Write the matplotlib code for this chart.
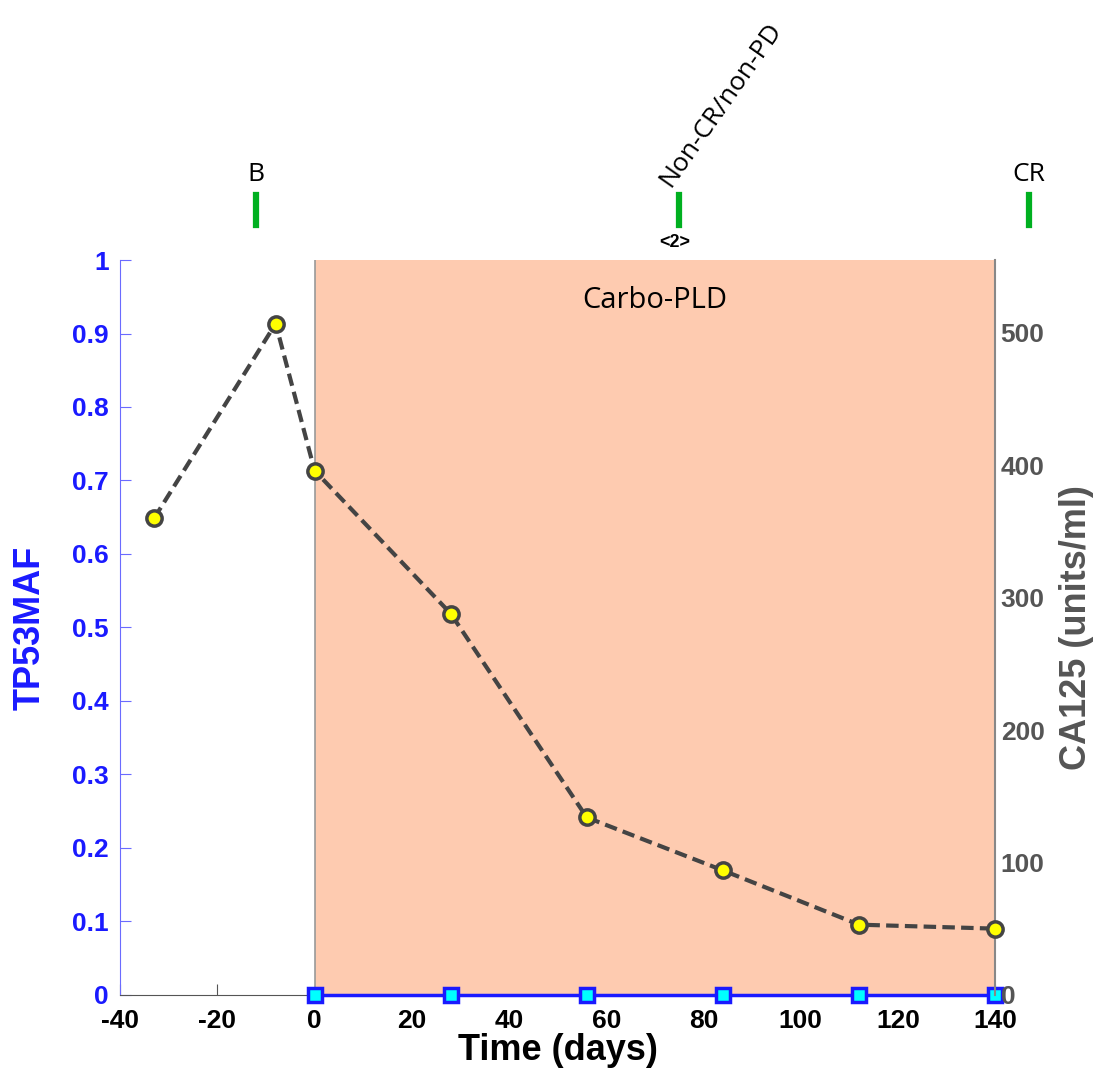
import matplotlib as mpl
import matplotlib.pyplot as plt
import numpy as np

mpl.rc('font', family='Liberation Sans', weight='bold')
mpl.rc('axes', labelweight='bold', unicode_minus=False)

# data
days_maf = [0, 28, 56, 84, 112, 140]
tp53_maf = [0, 0, 0, 0, 0, 0]
days_ca = [-33, -8, 0, 28, 56, 84, 112, 140]
ca125 = [360, 507, 396, 288, 134, 94, 53, 50]
treat_start, treat_end = 0, 140
treat_name = 'Carbo-PLD'
resp_days = [-12, 75, 147]
resp_labels = ['B', 'Non-CR/non-PD', 'CR']
resp_rot = [0, 55, 0]

blue = '#1a1aff'
gray = '#555555'

fig = plt.figure(figsize=(11.02, 10.79), dpi=100)
ax = fig.add_axes([0.109, 0.078, 0.794, 0.681])
ax2 = ax.twinx()

# treatment patch drawn over the inward ticks, as in the original
ax.axvspan(treat_start, treat_end, color='#fecbb0', lw=0, zorder=3)
ax.axvline(treat_start, color='#999999', lw=1.2, zorder=4)
ax.text(70, 0.945, treat_name, ha='center', va='center', fontsize=21,
        fontweight='normal', family='Open Sans', zorder=6)

ax.plot(days_maf, tp53_maf, '-s', color=blue, lw=2.5, ms=10,
        mfc='cyan', mec=blue, mew=2.5, clip_on=False, zorder=5)
ax2.plot(days_ca, ca125, '--o', color='#444444', lw=3, ms=11,
         mfc='yellow', mec='#444444', mew=2.5, clip_on=False, zorder=5,
         dashes=(3, 1.5))

ax.set_xlim(-40, 140)
ax.set_ylim(0, 1)
ax2.set_ylim(0, 555)
ax.set_xticks(np.arange(-40, 141, 20))
ax.set_yticks(np.arange(0, 1.01, 0.1))
ax.set_yticklabels(['0'] + [f'{v:.1f}' for v in np.arange(0.1, 0.95, 0.1)] + ['1'])
ax2.set_yticks(np.arange(0, 501, 100))

ax.spines['top'].set_visible(False)
ax2.spines['top'].set_visible(False)
ax.spines['left'].set_color('#6b6bff')
ax.spines['bottom'].set_color('#555555')
ax.spines['bottom'].set_zorder(4)
ax2.spines['left'].set_visible(False)
ax2.spines['bottom'].set_visible(False)
ax2.spines['right'].set_color('#888888')
ax2.spines['right'].set_linewidth(1.5)
ax.spines['right'].set_visible(False)

ax.tick_params(axis='x', direction='in', length=8, colors='#555555',
               labelcolor='black', labelsize=19, pad=10)
ax.tick_params(axis='y', direction='in', length=8, colors='#6b6bff',
               labelcolor=blue, labelsize=19, pad=8)
ax2.tick_params(axis='y', direction='in', length=0, labelcolor=gray,
                labelsize=19, pad=4)

ax.set_xlabel('Time (days)', fontsize=26, labelpad=0)
ax.set_ylabel('TP53MAF', fontsize=26, color=blue, labelpad=18)
ax2.set_ylabel('CA125 (units/ml)', fontsize=26, color=gray, labelpad=10)

# response markers above the axes
trans = mpl.transforms.blended_transform_factory(ax.transData, fig.transFigure)
for d, lab, rot in zip(resp_days, resp_labels, resp_rot):
    ax.plot([d, d], [0.7915, 0.819], color='#00b020', lw=4.5,
            transform=trans, clip_on=False)
    if rot == 0:
        ax.text(d, 0.827, lab, ha='center', va='bottom', fontsize=19,
                fontweight='normal', family='Open Sans', transform=trans)
    else:
        ax.text(d - 0.8, 0.823, lab, ha='left', va='bottom', fontsize=19,
                fontweight='normal', family='Open Sans', rotation=rot,
                rotation_mode='anchor', transform=trans)
ax.text(resp_days[1] - 1, 0.775, '<2>', ha='center', va='center', fontsize=13,
        transform=trans)

fig.savefig('out.png')
